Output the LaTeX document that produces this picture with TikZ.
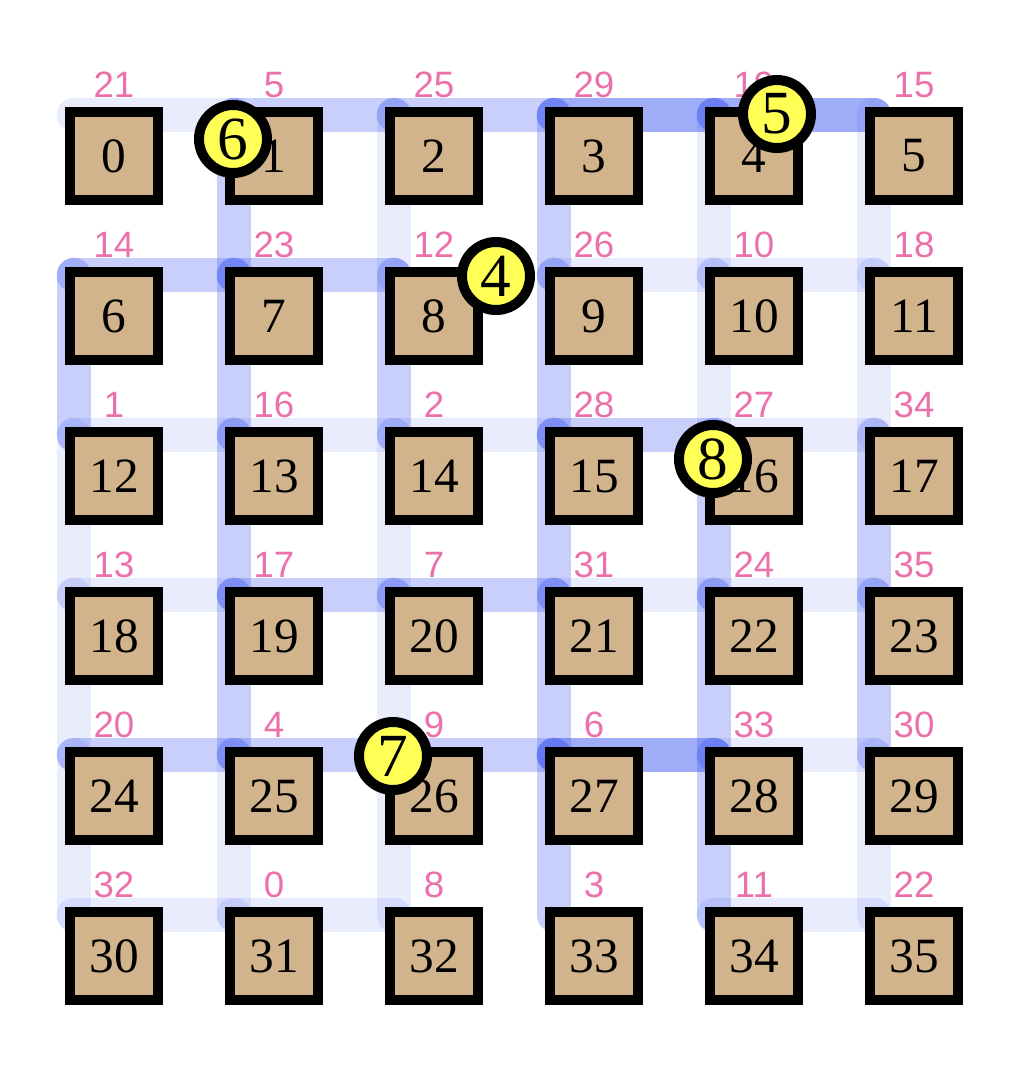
\documentclass[tikz,border=0pt]{standalone}
\usepackage{fontspec}
\setmainfont{Liberation Serif}
\newfontfamily\labelfont{Liberation Sans}
\definecolor{pinklbl}{RGB}{236,112,170}
\definecolor{tanbox}{RGB}{210,180,140}
\definecolor{ballyel}{RGB}{255,255,85}
\definecolor{pathblue}{RGB}{70,95,240}
\begin{document}
\begin{tikzpicture}[x=0.75pt,y=-0.75pt,
 cell/.style={draw=black,line width=7.5pt,fill=tanbox,minimum size=66pt,inner sep=0pt,font=\fontsize{37}{37}\selectfont},
 tag/.style={text=pinklbl,inner sep=0pt,font=\labelfont\fontsize{27.5}{27.5}\selectfont},
 ball/.style={circle,draw=black,line width=7.5pt,fill=ballyel,minimum size=51pt,inner sep=0pt,font=\fontsize{46}{46}\selectfont},
 band/.style={draw=pathblue,line width=26pt,line cap=round},
 bandF/.style={band,draw opacity=0.12},
 bandM/.style={band,draw opacity=0.3},
 bandS/.style={band,draw opacity=0.52}]
\useasboundingbox (0,0) rectangle (1028,1072);
\foreach \c in {0,...,5}{\foreach \r in {0,...,5}{\coordinate (v\c-\r) at ({74+160*\c},{115+160*\r});}}
% horizontal bands
\draw[bandF] (v0-0) -- (v1-0);
\draw[bandM] (v1-0) -- (v2-0);
\draw[bandM] (v2-0) -- (v3-0);
\draw[bandS] (v3-0) -- (v4-0);
\draw[bandS] (v4-0) -- (v5-0);
\draw[bandM] (v0-1) -- (v1-1);
\draw[bandM] (v1-1) -- (v2-1);
\draw[bandF] (v3-1) -- (v4-1);
\draw[bandF] (v4-1) -- (v5-1);
\draw[bandF] (v0-2) -- (v1-2);
\draw[bandF] (v1-2) -- (v2-2);
\draw[bandF] (v2-2) -- (v3-2);
\draw[bandM] (v3-2) -- (v4-2);
\draw[bandF] (v4-2) -- (v5-2);
\draw[bandF] (v0-3) -- (v1-3);
\draw[bandM] (v1-3) -- (v2-3);
\draw[bandM] (v2-3) -- (v3-3);
\draw[bandF] (v3-3) -- (v4-3);
\draw[bandF] (v4-3) -- (v5-3);
\draw[bandM] (v0-4) -- (v1-4);
\draw[bandM] (v1-4) -- (v2-4);
\draw[bandM] (v2-4) -- (v3-4);
\draw[bandS] (v3-4) -- (v4-4);
\draw[bandF] (v4-4) -- (v5-4);
\draw[bandF] (v0-5) -- (v1-5);
\draw[bandF] (v1-5) -- (v2-5);
\draw[bandF] (v4-5) -- (v5-5);
% vertical bands
\draw[bandM] (v0-1) -- (v0-2);
\draw[bandF] (v0-2) -- (v0-3);
\draw[bandF] (v0-3) -- (v0-4);
\draw[bandF] (v0-4) -- (v0-5);
\draw[bandM] (v1-0) -- (v1-1);
\draw[bandM] (v1-1) -- (v1-2);
\draw[bandM] (v1-2) -- (v1-3);
\draw[bandM] (v1-3) -- (v1-4);
\draw[bandF] (v1-4) -- (v1-5);
\draw[bandF] (v2-0) -- (v2-1);
\draw[bandM] (v2-1) -- (v2-2);
\draw[bandF] (v2-2) -- (v2-3);
\draw[bandF] (v2-3) -- (v2-4);
\draw[bandF] (v2-4) -- (v2-5);
\draw[bandM] (v3-0) -- (v3-1);
\draw[bandM] (v3-1) -- (v3-2);
\draw[bandM] (v3-2) -- (v3-3);
\draw[bandM] (v3-3) -- (v3-4);
\draw[bandM] (v3-4) -- (v3-5);
\draw[bandF] (v4-0) -- (v4-1);
\draw[bandF] (v4-1) -- (v4-2);
\draw[bandM] (v4-2) -- (v4-3);
\draw[bandM] (v4-3) -- (v4-4);
\draw[bandM] (v4-4) -- (v4-5);
\draw[bandF] (v5-0) -- (v5-1);
\draw[bandF] (v5-1) -- (v5-2);
\draw[bandM] (v5-2) -- (v5-3);
\draw[bandM] (v5-3) -- (v5-4);
\draw[bandF] (v5-4) -- (v5-5);
% labels and squares
\foreach \i/\t in {0/21,1/5,2/25,3/29,4/19,5/15,6/14,7/23,8/12,9/26,10/10,11/18,12/1,13/16,14/2,15/28,16/27,17/34,18/13,19/17,20/7,21/31,22/24,23/35,24/20,25/4,26/9,27/6,28/33,29/30,30/32,31/0,32/8,33/3,34/11,35/22}{
  \pgfmathtruncatemacro{\cc}{mod(\i,6)}
  \pgfmathtruncatemacro{\rr}{int(\i/6)}
  \node[tag] (t\i) at ({114+160*\cc},{85+160*\rr}) {\t};
  \node[cell] (s\i) at ({114+160*\cc},{156+160*\rr}) {\i};
}
% balls
\node[ball] (b6) at (233,139) {6};
\node[ball] (b4) at (496,276) {4};
\node[ball] (b5) at (777,114) {5};
\node[ball] (b8) at (713,459) {8};
\node[ball] (b7) at (393,756) {7};
\end{tikzpicture}
\end{document}
